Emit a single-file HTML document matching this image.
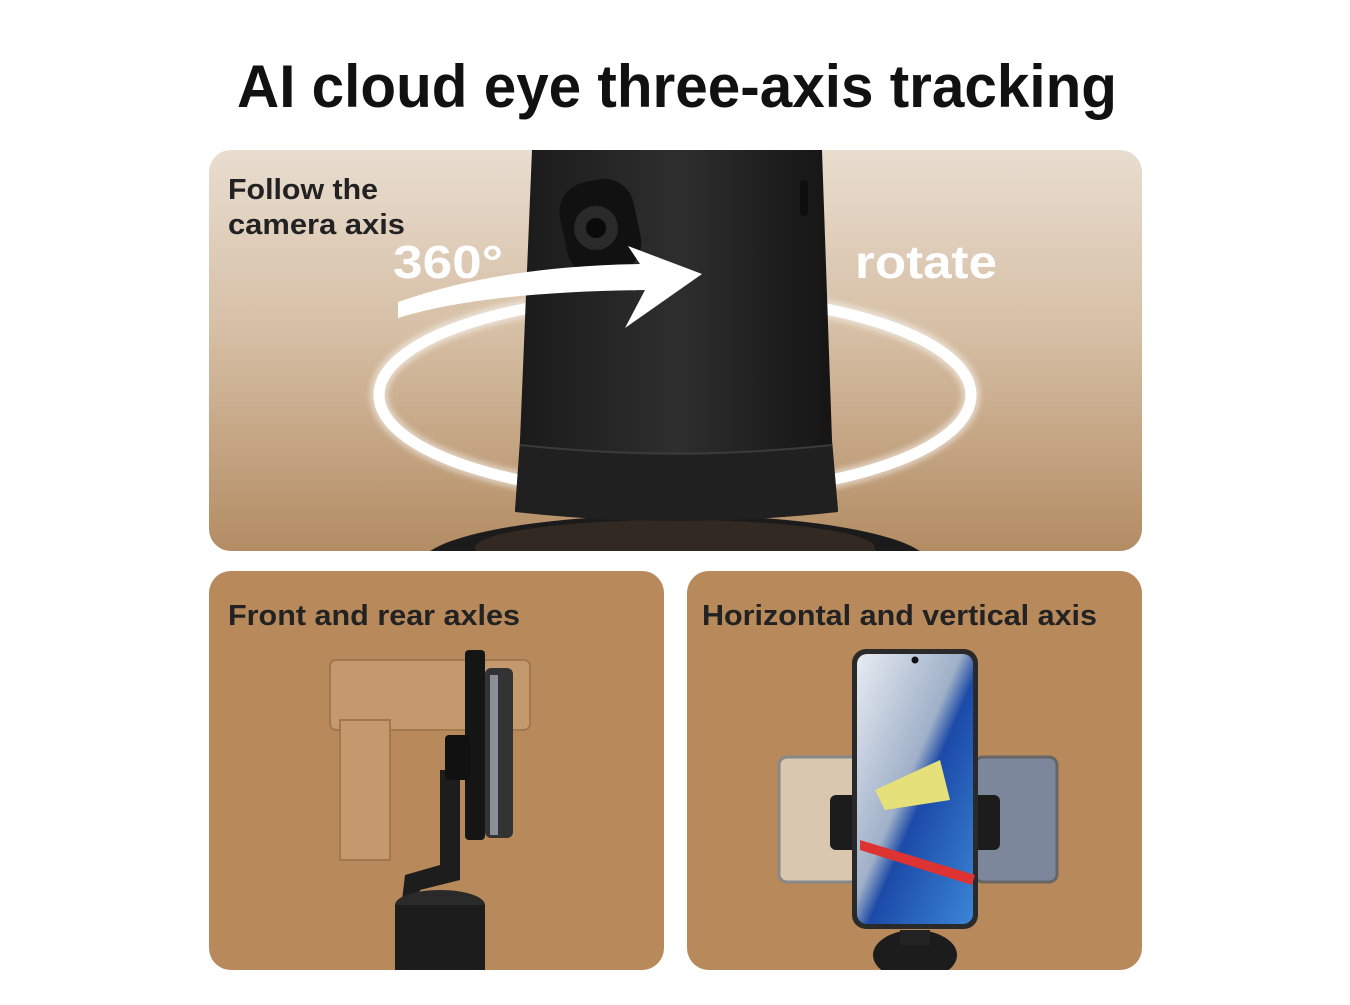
<!DOCTYPE html>
<html><head><meta charset="utf-8"><style>
body{margin:0;width:1350px;height:1000px;background:#fff;overflow:hidden;font-family:"Liberation Sans",sans-serif}
</style></head><body>
<svg width="1350" height="1000" viewBox="0 0 1350 1000" xmlns="http://www.w3.org/2000/svg">
<defs>
<linearGradient id="tg" x1="0" y1="0" x2="0" y2="1">
<stop offset="0" stop-color="#e9ddd0"/><stop offset="0.45" stop-color="#d6bfa5"/><stop offset="1" stop-color="#b38c63"/></linearGradient>
<linearGradient id="cyl" x1="0" y1="0" x2="1" y2="0">
<stop offset="0" stop-color="#1a1a1a"/><stop offset="0.5" stop-color="#2e2e2e"/><stop offset="1" stop-color="#141414"/></linearGradient>
<linearGradient id="scr" x1="0" y1="0" x2="1" y2="1">
<stop offset="0" stop-color="#e8ecf2"/><stop offset="0.45" stop-color="#9fb0c8"/><stop offset="0.55" stop-color="#1c4aa8"/><stop offset="1" stop-color="#3a86d8"/></linearGradient>
<filter id="gl"><feGaussianBlur stdDeviation="3"/></filter>
<clipPath id="c1"><rect x="209" y="150" width="933" height="401" rx="22"/></clipPath>
<clipPath id="c2"><rect x="209" y="571" width="455" height="399" rx="22"/></clipPath>
<clipPath id="c3"><rect x="687" y="571" width="455" height="399" rx="22"/></clipPath>
</defs>
<text x="677" y="107" text-anchor="middle" font-size="60" font-weight="bold" fill="#111" textLength="880" lengthAdjust="spacingAndGlyphs">AI cloud eye three-axis tracking</text>

<rect x="209" y="150" width="933" height="401" rx="22" fill="url(#tg)"/>
<g clip-path="url(#c1)">
<ellipse cx="675" cy="395" rx="296" ry="100" fill="none" stroke="#fff" stroke-width="18" opacity="0.5" filter="url(#gl)"/>
<ellipse cx="675" cy="395" rx="296" ry="100" fill="none" stroke="#fff" stroke-width="11"/>
<ellipse cx="675" cy="565" rx="255" ry="50" fill="#1b1b1b"/>
<ellipse cx="675" cy="548" rx="200" ry="28" fill="#4a3a2a" opacity="0.5"/>
<path d="M532 150 L822 150 L832 440 L838 510 Q675 530 515 510 L520 440 Z" fill="url(#cyl)"/>
<path d="M520 445 Q675 465 832 445 L838 512 Q675 530 515 512 Z" fill="#202020"/>
<path d="M520 445 Q675 462 832 445" fill="none" stroke="#3a3a3a" stroke-width="2"/>
<rect x="563" y="180" width="75" height="95" rx="30" fill="#111" transform="rotate(-12 600 228)"/>
<circle cx="596" cy="228" r="22" fill="#2a2a2a"/><circle cx="596" cy="228" r="10" fill="#0a0a0a"/>
<rect x="800" y="180" width="8" height="36" rx="4" fill="#0e0e0e"/>
<path d="M398 318 Q480 292 645 290 L625 328 L702 274 L628 246 L640 264 Q500 266 398 302 Z" fill="#fff"/>
</g>
<text x="228" y="199" font-size="29" font-weight="bold" fill="#222" textLength="150" lengthAdjust="spacingAndGlyphs">Follow the</text>
<text x="228" y="234" font-size="29" font-weight="bold" fill="#222" textLength="177" lengthAdjust="spacingAndGlyphs">camera axis</text>
<text x="393" y="278" font-size="46" font-weight="bold" fill="#fff" textLength="110" lengthAdjust="spacingAndGlyphs">360°</text>
<text x="855" y="278" font-size="46" font-weight="bold" fill="#fff" textLength="142" lengthAdjust="spacingAndGlyphs">rotate</text>

<rect x="209" y="571" width="455" height="399" rx="22" fill="#b8895b"/>
<g clip-path="url(#c2)">
<g opacity="0.35" fill="#d8b991" stroke="#7a5a3a" stroke-width="2">
<rect x="330" y="660" width="200" height="70" rx="6"/>
<rect x="340" y="720" width="50" height="140"/>
</g>
<path d="M440 770 L460 770 L460 880 L420 890 L405 960 L395 960 L405 875 L440 865 Z" fill="#1d1d1d"/>
<rect x="465" y="650" width="20" height="190" rx="4" fill="#151515"/>
<rect x="485" y="668" width="28" height="170" rx="6" fill="#333"/>
<rect x="490" y="675" width="8" height="160" fill="#8a8f98"/>
<rect x="445" y="735" width="25" height="45" rx="4" fill="#111"/>
<ellipse cx="440" cy="905" rx="45" ry="15" fill="#2a2a2a"/>
<rect x="395" y="905" width="90" height="70" fill="#1c1c1c"/>
</g>
<text x="228" y="625" font-size="29" font-weight="bold" fill="#222" textLength="292" lengthAdjust="spacingAndGlyphs">Front and rear axles</text>

<rect x="687" y="571" width="455" height="399" rx="22" fill="#b8895b"/>
<g clip-path="url(#c3)">
<rect x="779" y="757" width="80" height="125" rx="8" fill="#d9c7b0" stroke="#888" stroke-width="3"/>
<rect x="975" y="757" width="82" height="125" rx="8" fill="#7d879c" stroke="#666" stroke-width="3"/>
<rect x="830" y="795" width="170" height="55" rx="6" fill="#1c1c1c"/>
<rect x="852" y="649" width="126" height="280" rx="14" fill="#2a2a2a"/>
<rect x="857" y="654" width="116" height="270" rx="10" fill="url(#scr)"/>
<circle cx="915" cy="660" r="3.5" fill="#111"/>
<path d="M875 790 L940 760 L950 800 L885 810 Z" fill="#e6e07a"/>
<path d="M860 840 L975 875 L972 885 L860 850 Z" fill="#d33"/>
<ellipse cx="915" cy="955" rx="42" ry="25" fill="#1c1c1c"/>
<rect x="900" y="930" width="30" height="15" fill="#222"/>
</g>
<text x="702" y="625" font-size="29" font-weight="bold" fill="#222" textLength="395" lengthAdjust="spacingAndGlyphs">Horizontal and vertical axis</text>
</svg>
</body></html>
